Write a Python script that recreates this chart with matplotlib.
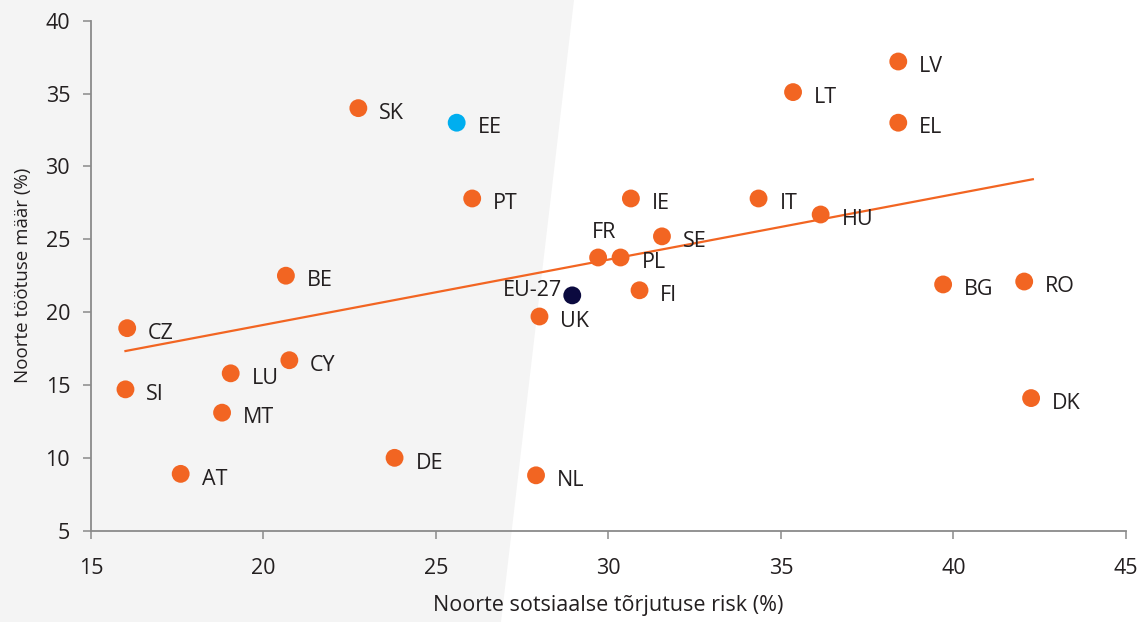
import numpy as np
import matplotlib
matplotlib.use("Agg")
import matplotlib.pyplot as plt
from matplotlib.patches import Polygon

plt.rcParams['font.family'] = ['Open Sans', 'DejaVu Sans']

# youth social exclusion risk (%) vs youth unemployment rate (%)
countries = ["SK", "EE", "PT", "BE", "CZ", "SI", "LU", "CY", "MT", "AT", "DE",
             "NL", "UK", "EU-27", "FR", "PL", "IE", "SE", "FI",
             "IT", "HU", "LT", "LV", "EL", "BG", "RO", "DK"]
risk = [22.75, 25.6, 26.05, 20.65, 16.05, 16.0, 19.05, 20.75, 18.8, 17.6, 23.8,
        27.9, 28.0, 28.95, 29.7, 30.35, 30.65, 31.55, 30.9,
        34.35, 36.15, 35.35, 38.4, 38.4, 39.7, 42.05, 42.25]
unemp = [34.0, 33.0, 27.8, 22.5, 18.9, 14.7, 15.8, 16.7, 13.1, 8.9, 10.0,
         8.8, 19.7, 21.15, 23.75, 23.75, 27.8, 25.2, 21.5,
         27.8, 26.7, 35.1, 37.2, 33.0, 21.9, 22.1, 14.1]

# trend line as drawn in the source
trend_x = [16.0, 42.3]
trend_y = [17.33, 29.12]

orange = "#f26522"
col_map = {"EE": "#00aeef", "EU-27": "#0b0a3f"}
colors = [col_map.get(c, orange) for c in countries]

# label placement: default right of dot, some special cases
label_off = {"FR": (4, 18, "center"), "EU-27": (-7, 3.5, "right")}

fig = plt.figure(figsize=(11.4, 6.22), dpi=100)

# shaded background on left part of the figure
shade = Polygon([(0, 0), (0, 1), (574 / 1140, 1), (501 / 1140, 0)],
                closed=True, transform=fig.transFigure, facecolor="#f4f4f4",
                edgecolor="none", zorder=-5)
fig.patches.append(shade)

ax = fig.add_axes([0.0798, 0.1468, 0.9079, 0.8199])
ax.set_facecolor("none")

ax.plot(trend_x, trend_y, color=orange, lw=1.6, zorder=2)

ax.scatter(risk, unemp, s=165, c=colors, edgecolors="none", zorder=3)

for c, x, y in zip(countries, risk, unemp):
    dx, dy, ha = label_off.get(c, (15, -3.8, "left"))
    ax.annotate(c, (x, y), xytext=(dx, dy), textcoords="offset points",
                ha=ha, va="center", fontsize=15.5, color="#231f20", zorder=4)

ax.set_xlim(15, 45)
ax.set_ylim(5, 40)
ax.set_xticks([15, 20, 25, 30, 35, 40, 45])
ax.set_yticks([5, 10, 15, 20, 25, 30, 35, 40])

for s in ["top", "right"]:
    ax.spines[s].set_visible(False)
for s in ["left", "bottom"]:
    ax.spines[s].set_color("#8a8a8a")
    ax.spines[s].set_linewidth(1.3)

ax.tick_params(axis="both", colors="#8a8a8a", length=6, width=1.1,
               labelsize=15.5, labelcolor="#231f20")
ax.tick_params(axis="x", pad=14)
ax.tick_params(axis="y", pad=9)

ax.set_xlabel("Noorte sotsiaalse tõrjutuse risk (%)", fontsize=15.5,
              color="#231f20", labelpad=11)
ax.set_ylabel("Noorte töötuse määr (%)", fontsize=13.5, color="#231f20",
              labelpad=10)

fig.savefig("out.png", dpi=100)
